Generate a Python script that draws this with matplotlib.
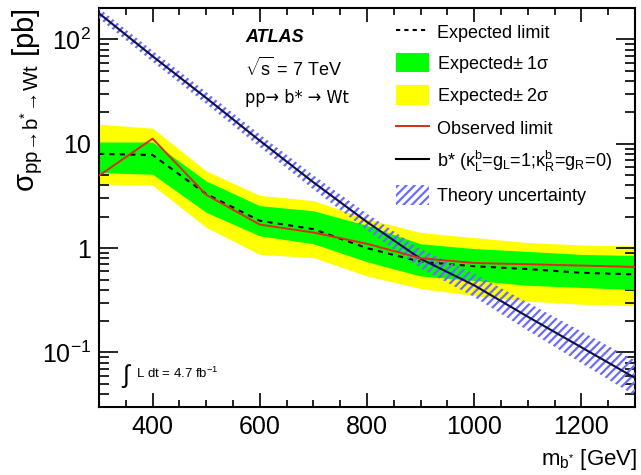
import matplotlib
matplotlib.use("Agg")
import matplotlib.pyplot as plt
from matplotlib.patches import Patch
from matplotlib.lines import Line2D
from matplotlib.ticker import FixedLocator, MultipleLocator, LogLocator, NullFormatter, FixedFormatter

plt.rcParams['font.family'] = ['Liberation Sans', 'DejaVu Sans']
plt.rcParams['mathtext.fontset'] = 'custom'
plt.rcParams['mathtext.rm'] = 'Liberation Sans'
plt.rcParams['mathtext.it'] = 'Liberation Sans:italic'
plt.rcParams['mathtext.bf'] = 'Liberation Sans:bold'
plt.rcParams['hatch.color'] = '#6b6bff'
plt.rcParams['hatch.linewidth'] = 1.6

# ---- data ----
mass = [300, 400, 500, 600, 700, 800, 900, 1000, 1100, 1200, 1300]
observed = [4.95, 11.2, 3.24, 1.68, 1.41, 1.1, 0.80, 0.72, 0.70, 0.68, 0.66]
expected = [8.0, 7.8, 3.3, 1.83, 1.52, 1.0, 0.74, 0.67, 0.63, 0.58, 0.56]
exp_1s_up = [10.4, 10.4, 4.4, 2.55, 2.28, 1.65, 1.1, 0.99, 0.93, 0.87, 0.85]
exp_1s_dn = [5.3, 5.1, 2.2, 1.31, 1.1, 0.74, 0.54, 0.49, 0.44, 0.42, 0.40]
exp_2s_up = [15.4, 14.1, 5.5, 3.2, 2.85, 1.9, 1.41, 1.26, 1.13, 1.07, 1.05]
exp_2s_dn = [4.1, 4.0, 1.58, 0.87, 0.81, 0.54, 0.41, 0.35, 0.31, 0.29, 0.28]
theory = [178, 69, 27.5, 10.7, 4.27, 1.78, 0.79, 0.44, 0.22, 0.112, 0.057]
theory_up = [199, 78, 31.4, 12.3, 5.0, 2.14, 0.98, 0.57, 0.30, 0.159, 0.084]
theory_dn = [159, 61, 24.1, 9.3, 3.65, 1.48, 0.64, 0.34, 0.162, 0.079, 0.0385]

ytick_vals = [0.1, 1, 10, 100]
ytick_labels = [r'$\mathregular{10^{-1}}$', '1', '10', r'$\mathregular{10^{2}}$']
xtick_vals = [400, 600, 800, 1000, 1200]

fig = plt.figure(figsize=(6.41, 4.75), dpi=100)
ax = fig.add_axes([99/641, 1-407/475, (635-99)/641, (407-8)/475])

ax.fill_between(mass, exp_2s_dn, exp_2s_up, color='#ffff00', lw=0, zorder=1)
ax.fill_between(mass, exp_1s_dn, exp_1s_up, color='#00ff00', lw=0, zorder=2)
ax.plot(mass, expected, color='black', lw=1.5, ls=(0, (2.5, 2.5)), zorder=3)
ax.fill_between(mass, theory_dn, theory_up, facecolor='none', edgecolor='#6b6bff',
                hatch='////', lw=0, zorder=4)
ax.plot(mass, theory, color='#10104a', lw=1.5, zorder=5)
ax.plot(mass, observed, color='#dd2a1a', lw=1.4, zorder=6)

ax.set_yscale('log')
ax.set_xlim(300, 1300)
ax.set_ylim(0.03, 200)

ax.xaxis.set_major_locator(FixedLocator(xtick_vals))
ax.xaxis.set_minor_locator(MultipleLocator(50))
ax.yaxis.set_major_locator(FixedLocator(ytick_vals))
ax.yaxis.set_major_formatter(FixedFormatter(ytick_labels))
ax.yaxis.set_minor_locator(LogLocator(base=10, subs=range(2, 10)))
ax.yaxis.set_minor_formatter(NullFormatter())

ax.tick_params(which='both', direction='in', top=True, right=True, width=1.2)
ax.tick_params(axis='y', which='major', length=14, labelsize=18, pad=6)
ax.tick_params(axis='y', which='minor', length=7)
ax.tick_params(axis='x', which='major', length=10, labelsize=18, pad=6)
ax.tick_params(axis='x', which='minor', length=5)
for s in ax.spines.values():
    s.set_linewidth(1.5)

ax.set_ylabel('σ$\\mathregular{_{pp\\!\\rightarrow\\! b^{*}\\!\\rightarrow\\! Wt}}$ [pb]', fontsize=21, labelpad=2)
ax.yaxis.set_label_coords(-0.1, 1.0, transform=ax.transAxes)
ax.yaxis.label.set_horizontalalignment('right')
fig.text(637/641, 1-460/475, r'$\mathregular{m_{b^{*}}}$ [GeV]', fontsize=16, ha='right', va='center')

ax.text(245/641, 1-38/475, 'ATLAS', transform=fig.transFigure, fontsize=13,
        fontweight='bold', fontstyle='italic', va='center')
ax.text(245/641, 1-68/475, r'$\mathregular{\sqrt{s}}$ = 7 TeV', transform=fig.transFigure,
        fontsize=13, va='center')
ax.text(245/641, 1-98/475, 'pp\u2192 b* \u2192 Wt',
        transform=fig.transFigure, fontsize=13, va='center', family=['DejaVu Sans'],
        fontstretch='condensed')
ax.text(121/641, 1-376/475, r'$\int$', transform=fig.transFigure, fontsize=18, va='center')
ax.text(136/641, 1-373/475, r'L dt = 4.7 fb$\mathregular{^{-1}}$', transform=fig.transFigure,
        fontsize=9.5, va='center')

handles = [
    Line2D([], [], color='black', lw=1.5, ls=(0, (2, 2))),
    Patch(facecolor='#00ff00', edgecolor='none'),
    Patch(facecolor='#ffff00', edgecolor='none'),
    Line2D([], [], color='#dd2a1a', lw=1.4),
    Line2D([], [], color='black', lw=1.5),
    Patch(facecolor='none', edgecolor='#6b6bff', hatch='////', lw=0),
]
labels = ['Expected limit', r'Expected$\mathregular{\pm}$ 1$\mathregular{\sigma}$',
          r'Expected$\mathregular{\pm}$ 2$\mathregular{\sigma}$', 'Observed limit',
          r'b* ($\mathregular{\kappa^{b}_{L}}$=g$\mathregular{_{L}}$=1;$\mathregular{\kappa^{b}_{R}}$=g$\mathregular{_{R}}$=0)',
          'Theory uncertainty']
leg = ax.legend(handles, labels, loc='upper left', bbox_to_anchor=(396/641, 1-22/475),
                bbox_transform=fig.transFigure, frameon=False, fontsize=13,
                handlelength=1.8, handleheight=1.3, handletextpad=0.45,
                labelspacing=0.6, borderpad=0, borderaxespad=0)

fig.savefig('out.png', dpi=100)
